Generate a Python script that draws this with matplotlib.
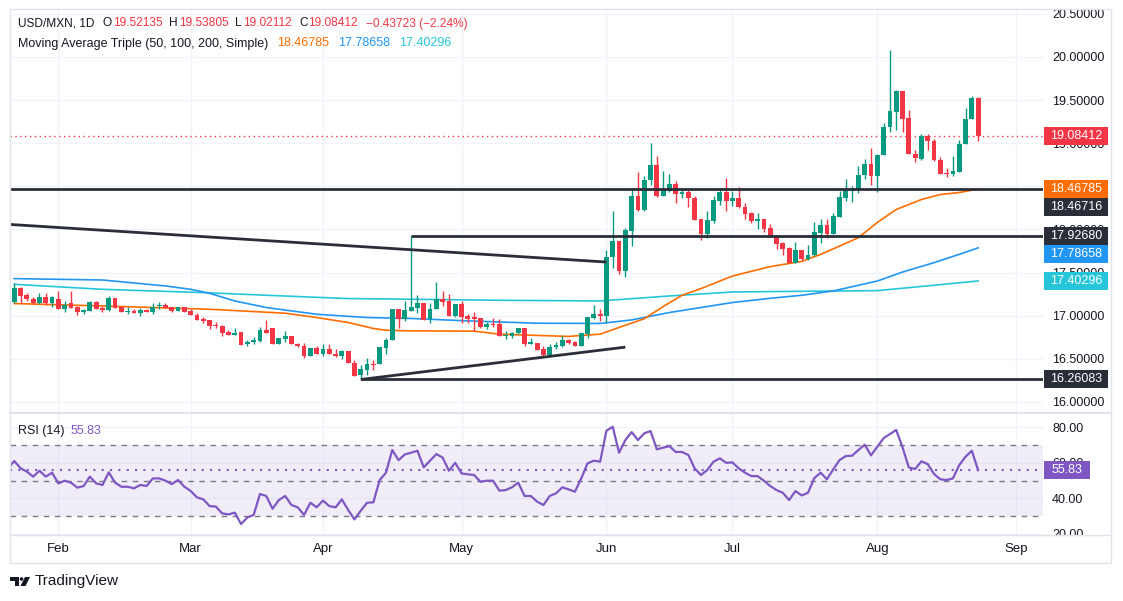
import numpy as np
import pandas as pd
import matplotlib
matplotlib.use("Agg")
import matplotlib.pyplot as plt
from matplotlib.patches import Rectangle, Polygon, Circle
from matplotlib.ticker import FormatStrFormatter
from matplotlib.transforms import Affine2D, blended_transform_factory

plt.rcParams['font.family'] = ['Liberation Sans', 'DejaVu Sans']

# ---------------- data (USD/MXN daily) ----------------
start_date = '2024-01-23'

opens = [17.164, 17.318, 17.237, 17.198, 17.145, 17.222, 17.152, 17.198, 17.083, 17.145,
         17.098, 17.044, 17.052, 17.156, 17.091, 17.067, 17.202, 17.106, 17.044, 17.060,
         17.029, 17.067, 17.044, 17.114, 17.121, 17.098, 17.060, 17.098, 17.052, 17.006,
         16.967, 16.952, 16.890, 16.882, 16.813, 16.782, 16.813, 16.667, 16.697, 16.705,
         16.836, 16.859, 16.674, 16.728, 16.767, 16.674, 16.644, 16.536, 16.628, 16.559,
         16.613, 16.559, 16.528, 16.593, 16.451, 16.312, 16.374, 16.435, 16.435, 16.628,
         16.713, 17.075, 16.967, 17.052, 17.091, 17.145, 16.960, 17.075, 17.198, 17.168,
         16.998, 17.133, 16.998, 16.983, 16.971, 16.871, 16.902, 16.902, 16.767, 16.767,
         16.805, 16.852, 16.671, 16.682, 16.613, 16.547, 16.640, 16.651, 16.717, 16.690,
         16.651, 16.786, 16.979, 17.017, 16.998, 17.684, 17.861, 17.518, 17.981, 18.393,
         18.231, 18.578, 18.751, 18.385, 18.451, 18.532, 18.412, 18.432, 18.370, 18.116,
         17.942, 18.096, 18.331, 18.439, 18.328, 18.370, 18.262, 18.185, 18.100, 18.116,
         18.015, 17.919, 17.838, 17.780, 17.615, 17.757, 17.653, 17.699, 17.961, 18.046,
         17.942, 18.146, 18.366, 18.451, 18.462, 18.628, 18.763, 18.617, 18.859, 19.187,
         19.356, 19.599, 19.295, 18.879, 18.821, 19.079, 19.029, 18.809, 18.647, 18.640,
         18.671, 18.987, 19.276, 19.52135]
highs = [17.383, 17.329, 17.268, 17.222, 17.268, 17.260, 17.229, 17.283, 17.171, 17.283,
         17.114, 17.083, 17.168, 17.175, 17.114, 17.229, 17.210, 17.106, 17.098, 17.075,
         17.091, 17.083, 17.152, 17.160, 17.145, 17.106, 17.106, 17.106, 17.075, 17.029,
         16.990, 16.952, 16.929, 16.890, 16.829, 16.852, 16.813, 16.721, 16.748, 16.867,
         16.952, 16.859, 16.744, 16.821, 16.767, 16.682, 16.682, 16.628, 16.644, 16.667,
         16.667, 16.613, 16.605, 16.593, 16.489, 16.428, 16.513, 16.482, 16.636, 16.736,
         17.075, 17.075, 17.170, 17.927, 17.237, 17.152, 17.145, 17.391, 17.287, 17.249,
         17.133, 17.171, 17.017, 17.044, 16.971, 16.929, 16.975, 16.960, 16.821, 16.813,
         16.863, 16.852, 16.740, 16.682, 16.644, 16.667, 16.690, 16.767, 16.728, 16.705,
         16.798, 16.987, 17.129, 17.075, 17.760, 18.212, 17.861, 18.015, 18.462, 18.671,
         18.617, 19.002, 18.856, 18.682, 18.647, 18.559, 18.482, 18.455, 18.385, 18.116,
         18.212, 18.393, 18.462, 18.601, 18.451, 18.493, 18.301, 18.200, 18.193, 18.123,
         18.058, 17.931, 17.854, 17.800, 17.857, 17.761, 17.815, 18.085, 18.116, 18.116,
         18.193, 18.443, 18.586, 18.501, 18.740, 18.821, 18.944, 18.870, 19.233, 20.081,
         19.619, 19.599, 19.387, 18.925, 19.110, 19.106, 19.048, 18.840, 18.717, 18.848,
         19.033, 19.410, 19.549, 19.53805]
lows = [17.152, 17.145, 17.171, 17.137, 17.137, 17.121, 17.106, 17.083, 17.044, 17.091,
        17.013, 17.017, 17.052, 17.075, 17.044, 17.060, 17.091, 17.044, 17.021, 17.037,
        16.998, 17.044, 17.021, 17.083, 17.091, 17.044, 17.052, 17.044, 17.006, 16.952,
        16.913, 16.844, 16.852, 16.767, 16.782, 16.775, 16.663, 16.651, 16.674, 16.690,
        16.798, 16.674, 16.674, 16.697, 16.667, 16.636, 16.513, 16.536, 16.551, 16.536,
        16.551, 16.520, 16.497, 16.451, 16.304, 16.261, 16.312, 16.374, 16.435, 16.551,
        16.713, 16.859, 16.940, 17.052, 17.037, 16.952, 16.921, 17.075, 17.114, 16.998,
        16.990, 16.921, 16.921, 16.825, 16.859, 16.844, 16.867, 16.767, 16.728, 16.736,
        16.786, 16.651, 16.667, 16.605, 16.536, 16.536, 16.620, 16.640, 16.667, 16.644,
        16.644, 16.744, 16.967, 16.940, 16.913, 17.557, 17.480, 17.453, 17.807, 18.212,
        18.212, 18.520, 18.374, 18.385, 18.439, 18.308, 18.366, 18.258, 18.108, 17.877,
        17.904, 18.077, 18.289, 18.212, 18.270, 18.250, 18.123, 18.077, 18.008, 17.969,
        17.911, 17.776, 17.707, 17.615, 17.615, 17.645, 17.645, 17.692, 17.838, 17.904,
        17.942, 18.146, 18.328, 18.316, 18.424, 18.586, 18.520, 18.432, 18.859, 19.125,
        19.148, 19.125, 18.871, 18.778, 18.802, 18.917, 18.790, 18.640, 18.609, 18.624,
        18.663, 18.987, 19.276, 19.02112]
closes = [17.318, 17.229, 17.191, 17.145, 17.222, 17.145, 17.214, 17.083, 17.121, 17.091,
          17.044, 17.067, 17.156, 17.083, 17.067, 17.202, 17.091, 17.044, 17.060, 17.037,
          17.067, 17.044, 17.106, 17.121, 17.091, 17.052, 17.098, 17.044, 17.013, 16.952,
          16.936, 16.875, 16.875, 16.805, 16.782, 16.805, 16.663, 16.697, 16.721, 16.836,
          16.798, 16.674, 16.744, 16.767, 16.667, 16.644, 16.536, 16.628, 16.559, 16.613,
          16.551, 16.536, 16.590, 16.451, 16.304, 16.382, 16.435, 16.428, 16.636, 16.713,
          17.075, 16.967, 17.064, 17.098, 17.145, 16.952, 17.075, 17.198, 17.160, 16.998,
          17.133, 16.990, 16.967, 16.967, 16.871, 16.902, 16.890, 16.767, 16.782, 16.805,
          16.852, 16.671, 16.690, 16.605, 16.547, 16.640, 16.659, 16.717, 16.682, 16.651,
          16.798, 16.987, 17.017, 16.998, 17.684, 17.861, 17.518, 17.988, 18.393, 18.231,
          18.578, 18.751, 18.385, 18.462, 18.532, 18.408, 18.432, 18.366, 18.108, 17.942,
          18.108, 18.339, 18.439, 18.328, 18.370, 18.262, 18.177, 18.096, 18.116, 18.008,
          17.911, 17.827, 17.776, 17.615, 17.761, 17.653, 17.699, 17.969, 18.046, 17.942,
          18.154, 18.374, 18.451, 18.466, 18.636, 18.763, 18.617, 18.867, 19.187, 19.368,
          19.599, 19.283, 18.871, 18.825, 19.079, 19.021, 18.802, 18.640, 18.640, 18.682,
          18.994, 19.283, 19.526, 19.08412]

# moving averages read at sampled bars (bar index, value)
ma50_idx = [0, 14, 31, 43, 48, 53, 57, 59, 63, 73, 77, 88, 93, 96, 100, 103, 106, 109,
            114, 120, 125, 128, 131, 134, 137, 140, 144, 147, 150, 153]
ma50 = [17.141, 17.113, 17.075, 17.029, 16.979, 16.921, 16.852, 16.832, 16.824, 16.821,
        16.786, 16.760, 16.786, 16.864, 16.965, 17.106, 17.237, 17.314, 17.460, 17.569,
        17.630, 17.711, 17.807, 17.905, 18.081, 18.231, 18.347, 18.405, 18.428, 18.46785]
ma100_idx = [0, 14, 24, 28, 31, 35, 40, 48, 56, 63, 72, 83, 93, 98, 104, 109, 114, 120,
             125, 130, 137, 141, 146, 150, 153]
ma100 = [17.430, 17.414, 17.345, 17.306, 17.260, 17.171, 17.095, 17.017, 16.979, 16.968,
         16.940, 16.913, 16.910, 16.951, 17.037, 17.095, 17.153, 17.202, 17.237, 17.287,
         17.402, 17.506, 17.615, 17.711, 17.78658]
ma200_idx = [0, 14, 30, 45, 53, 63, 77, 93, 104, 114, 125, 137, 146, 153]
ma200 = [17.364, 17.306, 17.268, 17.222, 17.199, 17.191, 17.179, 17.171, 17.229, 17.275,
         17.283, 17.291, 17.353, 17.40296]

rsi_before = 57.0   # bar just left of the visible range
rsi = [61.0, 56.9, 55.0, 52.2, 55.5, 52.2, 54.4, 48.4, 49.9, 48.8,
       46.0, 46.9, 52.2, 48.4, 47.5, 54.6, 48.8, 46.5, 46.5, 45.6,
       47.5, 46.9, 51.2, 51.2, 49.9, 48.0, 50.3, 46.5, 44.1, 40.5,
       39.4, 35.6, 35.3, 31.5, 30.9, 31.9, 25.5, 29.2, 30.6, 42.4,
       41.3, 34.1, 39.0, 41.3, 36.2, 34.9, 30.6, 37.5, 34.9, 38.7,
       35.6, 34.9, 39.4, 33.4, 28.1, 33.0, 37.5, 37.7, 50.3, 54.4,
       67.2, 61.5, 64.7, 65.7, 66.8, 57.4, 61.2, 64.9, 62.9, 55.5,
       60.0, 54.0, 53.5, 53.1, 49.3, 49.9, 49.9, 44.3, 44.6, 46.2,
       48.8, 41.3, 41.3, 38.1, 36.2, 41.3, 42.8, 46.2, 45.0, 43.7,
       51.2, 59.7, 61.2, 60.6, 78.1, 80.3, 65.7, 72.8, 77.3, 72.8,
       76.6, 77.9, 67.6, 68.5, 69.4, 66.1, 66.1, 64.4, 56.9, 53.1,
       55.9, 60.6, 62.5, 60.0, 60.2, 56.9, 54.4, 52.5, 52.5, 49.9,
       46.9, 44.6, 43.1, 39.0, 44.1, 41.6, 43.1, 51.4, 54.4, 50.7,
       56.3, 61.5, 63.8, 64.0, 67.2, 70.2, 64.2, 69.1, 73.9, 76.2,
       78.5, 68.7, 57.4, 56.5, 60.8, 59.3, 53.7, 50.7, 50.3, 51.2,
       58.7, 63.4, 66.8, 55.83]

# drawn levels and trend lines (bar index, price)
level_full = 18.46716
level_top = (63, 17.92680)
level_low = (55, 16.26083)
trend_down = ([-0.7, 94.0], [18.058, 17.622])
trend_up = ([55.0, 97.0], [16.261, 16.636])

# ---------------- styles ----------------
GREEN = '#089981'
RED = '#f23645'
ORANGE = '#ff6d00'
BLUE = '#2196f3'
CYAN = '#26c6da'
PURPLE = '#7e57c2'
DARK = '#2a2e39'
TXT = '#131722'
GRID = '#f0f3fa'
BORDER = '#e0e3eb'

W, H = 1123, 601
fig = plt.figure(figsize=(W / 100, H / 100), dpi=100)
fig.patch.set_facecolor('white')
pix = Affine2D().scale(1 / W, -1 / H).translate(0, 1) + fig.transFigure


def box(l, t, r, b):
    return [l / W, 1 - b / H, (r - l) / W, (b - t) / H]


ax = fig.add_axes(box(10, 9, 1043, 412))
axr = fig.add_axes(box(10, 414, 1043, 535), sharex=ax)

n = len(closes)
x = np.arange(n)
o = np.array(opens)
h = np.array(highs)
l = np.array(lows)
c = np.array(closes)

axis_dates = pd.bdate_range(start_date, '2024-09-30')
month_pos = [i for i in range(1, len(axis_dates))
             if axis_dates[i].month != axis_dates[i - 1].month]
month_lbl = [axis_dates[i].strftime('%b') for i in month_pos]

XMIN, XMAX = -0.68, 163.3

# ---------------- price pane ----------------
col = np.where(c >= o, GREEN, RED)
ax.vlines(x, l, h, colors=col, lw=1.0, zorder=4)
body_lo = np.minimum(o, c)
body_h = np.maximum(np.abs(c - o), 0.012)
ax.bar(x, body_h, bottom=body_lo, width=0.76, color=col, lw=0, zorder=5)

ax.plot(ma200_idx, ma200, color=CYAN, lw=1.2, zorder=3)
ax.plot(ma100_idx, ma100, color=BLUE, lw=1.2, zorder=3)
ax.plot(ma50_idx, ma50, color=ORANGE, lw=1.2, zorder=3)

ax.axhline(level_full, color=DARK, lw=2, zorder=6)
ax.hlines(level_top[1], level_top[0], XMAX + 5, color=DARK, lw=2, zorder=6)
ax.hlines(level_low[1], level_low[0], XMAX + 5, color=DARK, lw=2, zorder=6)
ax.plot(*trend_down, color=DARK, lw=2, zorder=6, solid_capstyle='butt')
ax.plot(*trend_up, color=DARK, lw=2, zorder=6, solid_capstyle='butt')
ax.axhline(closes[-1], color=RED, lw=1, ls=(0, (1, 2.5)), zorder=2)

ax.set_xlim(XMIN, XMAX)
ax.set_ylim(15.884, 20.555)
ax.set_yticks(np.arange(16, 20.51, 0.5))
ax.yaxis.tick_right()
ax.yaxis.set_major_formatter(FormatStrFormatter('%.5f'))
ax.tick_params(axis='y', length=0, pad=6.5, labelsize=9, labelcolor=TXT)
ax.set_xticks(month_pos)
ax.tick_params(axis='x', length=0, labelbottom=False)
ax.grid(True, color=GRID, lw=1, zorder=0)
ax.set_axisbelow(True)
for s in ax.spines.values():
    s.set_visible(False)

# ---------------- RSI pane ----------------
axr.axhspan(30, 70, color=PURPLE, alpha=0.1, lw=0, zorder=1)
for lvl in (70, 50, 30):
    axr.axhline(lvl, color='#787b86', lw=1, ls=(0, (4, 4)), zorder=2)
axr.axhline(rsi[-1], color=PURPLE, lw=1.5, ls=(0, (1, 3)), zorder=2)
axr.plot(np.arange(-1, n), [rsi_before] + rsi, color=PURPLE, lw=1.6, zorder=3)
axr.set_ylim(19.3, 87.5)
axr.set_yticks([20, 40, 60, 80])
axr.yaxis.tick_right()
axr.yaxis.set_major_formatter(FormatStrFormatter('%.2f'))
axr.tick_params(axis='y', length=0, pad=6.5, labelsize=9, labelcolor=TXT)
axr.set_xticks(month_pos)
axr.tick_params(axis='x', length=0, labelbottom=False)
axr.set_xlim(XMIN, XMAX)
axr.grid(True, color=GRID, lw=1, zorder=0)
axr.set_axisbelow(True)
for s in axr.spines.values():
    s.set_visible(False)

# cover below the RSI pane (clips the lowest scale label), then time labels
fig.add_artist(Rectangle((10, 535), 1101, 28, transform=pix, fc='white', ec='none', zorder=10))
bt = blended_transform_factory(axr.transData, pix)
for p, lbl in zip(month_pos, month_lbl):
    fig.text(p, 549, lbl, transform=bt, ha='center', va='center', fontsize=9.5,
             color=TXT, zorder=11)

# frame and pane separators
fig.add_artist(Rectangle((10, 9), 1101, 554, transform=pix, fill=False, ec=BORDER, lw=1, zorder=12))
fig.add_artist(plt.Line2D([10, 1111], [413, 413], transform=pix, color=BORDER, lw=1.5, zorder=12))
fig.add_artist(plt.Line2D([10, 1111], [535, 535], transform=pix, color=BORDER, lw=1, zorder=12))


# ---------------- scale label boxes ----------------
def scale_box(axis, value, text, fc, shift=0, width=64):
    ypx = H - axis.transData.transform((0, value))[1] + shift
    fig.add_artist(Rectangle((1044, ypx - 9), width, 18, transform=pix, fc=fc, ec='none', zorder=20))
    fig.text(1044 + width / 2, ypx, text, transform=pix, ha='center', va='center',
             color='white', fontsize=9, zorder=21)


scale_box(ax, closes[-1], '%.5f' % closes[-1], RED)
scale_box(ax, ma50[-1], '%.5f' % ma50[-1], ORANGE)
scale_box(ax, level_full, '%.5f' % level_full, DARK, shift=18)
scale_box(ax, level_top[1], '%.5f' % level_top[1], DARK)
scale_box(ax, ma100[-1], '%.5f' % ma100[-1], BLUE, shift=6.5)
scale_box(ax, ma200[-1], '%.5f' % ma200[-1], CYAN)
scale_box(ax, level_low[1], '%.5f' % level_low[1], DARK)
scale_box(axr, rsi[-1], '%.2f' % rsi[-1], PURPLE, width=46)


# ---------------- legend texts ----------------
renderer = fig.canvas.get_renderer()


def row(x0, yp, parts, size=9):
    """Lay out (text, color, gap_after_px) pieces left to right."""
    xp = x0
    for s, color, gap in parts:
        tx = fig.text(xp, yp, s, transform=pix, ha='left', va='center', color=color,
                      fontsize=size, zorder=15)
        xp += tx.get_window_extent(renderer).width + gap


chg = closes[-1] - opens[-1]
row(18, 23.5, [
    ('USD/MXN, 1D', TXT, 8),
    ('O', TXT, 1), ('%.5f' % opens[-1], RED, 7),
    ('H', TXT, 1), ('%.5f' % highs[-1], RED, 7),
    ('L', TXT, 1), ('%.5f' % lows[-1], RED, 7),
    ('C', TXT, 1), ('%.5f' % closes[-1], RED, 8),
    ('\u2212%.5f (\u2212%.2f%%)' % (abs(chg), abs(chg) / opens[-1] * 100), RED, 0),
], size=8.6)
row(18, 43.5, [
    ('Moving Average Triple (50, 100, 200, Simple)', TXT, 9),
    ('%.5f' % ma50[-1], ORANGE, 9),
    ('%.5f' % ma100[-1], BLUE, 9),
    ('%.5f' % ma200[-1], CYAN, 0),
], size=9)
row(18, 431, [('RSI (14)', TXT, 6), ('%.2f' % rsi[-1], PURPLE, 0)], size=9)

# TradingView mark
fig.add_artist(Polygon([(10, 577), (19, 577), (19, 586), (14.5, 586), (14.5, 580.5), (10, 580.5)],
                       closed=True, transform=pix, fc=TXT, ec='none', zorder=15))
fig.add_artist(Circle((21.5, 579), 1.8, transform=pix, fc=TXT, ec='none', zorder=15))
fig.add_artist(Polygon([(25, 577), (30, 577), (25.5, 586), (20.5, 586)],
                       closed=True, transform=pix, fc=TXT, ec='none', zorder=15))
fig.text(35, 581.5, 'TradingView', transform=pix, ha='left', va='center', color=TXT,
         fontsize=11, zorder=15)

fig.savefig('out.png', dpi=100, facecolor='white')
